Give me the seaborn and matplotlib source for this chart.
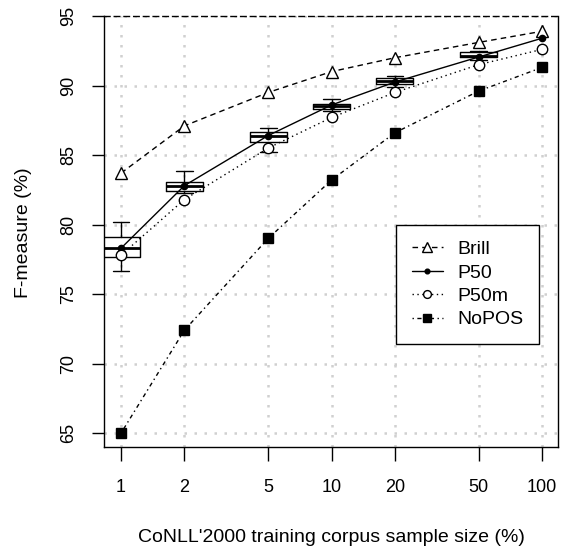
import numpy as np
import pandas as pd
import matplotlib
matplotlib.use("Agg")
import matplotlib.pyplot as plt
import seaborn as sns

# ---- data ----
sizes = [1, 2, 5, 10, 20, 50, 100]
tick_labels = ["1", "2", "5", "10", "20", "50", "100"]
brill = [83.7, 87.1, 89.5, 91.0, 92.0, 93.1, 93.9]
p50 = [78.3, 82.8, 86.4, 88.6, 90.25, 92.05, 93.4]
p50m = [77.8, 81.8, 85.5, 87.7, 89.5, 91.5, 92.6]
nopos = [65.0, 72.4, 79.0, 83.2, 86.6, 89.6, 91.3]

box_sizes = [1, 2, 5, 10, 20, 50]
box_lo = [76.65, 82.25, 85.2, 88.2, 89.9, 91.85]
box_q1 = [77.7, 82.4, 85.95, 88.3, 90.1, 92.05]
box_med = [78.3, 82.8, 86.35, 88.55, 90.3, 92.15]
box_q3 = [79.1, 83.05, 86.65, 88.7, 90.55, 92.4]
box_hi = [80.2, 83.85, 86.95, 89.0, 90.65, 92.45]

yticks = [65, 70, 75, 80, 85, 90, 95]

sns.set_style("white")
plt.rcParams["font.family"] = ["Liberation Sans", "DejaVu Sans"]
plt.rcParams["font.size"] = 13
plt.rcParams["text.color"] = "black"
plt.rcParams["xtick.labelcolor"] = "black"
plt.rcParams["ytick.labelcolor"] = "black"

fig = plt.figure(figsize=(5.64, 5.48), dpi=100)
ax = fig.add_axes([104 / 564, 1 - 447 / 548, (558 - 104) / 564, (447 - 16) / 548])

lx = np.log10(sizes)

# grid
grid_kw = dict(color="#d0d0d0", linestyle=(0, (1, 3)), linewidth=1.8, zorder=0)
for v in lx:
    ax.axvline(v, **grid_kw)
for v in yticks:
    ax.axhline(v, **grid_kw)

# boxplots
stats = []
for lo, q1, med, q3, hi in zip(box_lo, box_q1, box_med, box_q3, box_hi):
    stats.append(dict(whislo=lo, q1=q1, med=med, q3=q3, whishi=hi, fliers=[]))
bw = 0.176
ax.bxp(stats, positions=np.log10(box_sizes), widths=bw, manage_ticks=False,
       boxprops=dict(color="black", linewidth=1.0),
       whiskerprops=dict(color="black", linewidth=1.0),
       capprops=dict(color="black", linewidth=1.0),
       medianprops=dict(color="black", linewidth=2.0),
       capwidths=bw * 0.45, zorder=2)

series = [
    ("Brill", brill, dict(marker="^", markersize=9, markerfacecolor="white",
                          linestyle=(0, (4, 3)))),
    ("P50", p50, dict(marker="o", markersize=4.5, markerfacecolor="black",
                      linestyle="-")),
    ("P50m", p50m, dict(marker="o", markersize=7.5, markerfacecolor="white",
                        linestyle=(0, (1, 2.5)))),
    ("NoPOS", nopos, dict(marker="s", markersize=7, markerfacecolor="black",
                          linestyle=(0, (1, 2.5, 3, 2.5)))),
]
for name, vals, kw in series:
    sns.lineplot(x=lx, y=vals, ax=ax, color="black", linewidth=1.0,
                 markeredgecolor="black", markeredgewidth=1.0, label=name,
                 zorder=3, **kw)

ax.set_xlim(-0.081, 2.076)
ax.set_ylim(64.0, 95.0)
ax.set_xticks(lx)
ax.set_xticklabels(tick_labels)
ax.set_yticks(yticks)
ax.set_yticklabels([str(v) for v in yticks], rotation=90, va="center")

ax.tick_params(axis="x", direction="out", length=10, width=1, pad=13,
               color="black", labelcolor="black", labelsize=13, bottom=True)
ax.tick_params(axis="y", direction="out", length=9, width=1, pad=10,
               color="black", labelcolor="black", labelsize=13, left=True)

for s in ["left", "bottom", "right"]:
    ax.spines[s].set_color("black")
    ax.spines[s].set_linewidth(1.0)
ax.spines["top"].set_color("black")
ax.spines["top"].set_linestyle((0, (4, 3)))
ax.spines["top"].set_linewidth(1.0)

ax.set_xlabel("")
ax.set_ylabel("")
fig.text(331 / 564, 1 - 537 / 548, "CoNLL'2000 training corpus sample size (%)",
         ha="center", va="center", fontsize=14, color="black")
fig.text(23 / 564, 1 - 233 / 548, "F-measure (%)", rotation=90,
         ha="center", va="center", fontsize=14, color="black")

leg = ax.legend(loc="upper left", bbox_to_anchor=((396 - 104) / 454, 1 - (225 - 16) / 431),
                borderaxespad=0.0,
                frameon=True, fancybox=False, edgecolor="black", framealpha=1,
                handlelength=1.6, handletextpad=0.75, labelspacing=0.3,
                borderpad=0.8, fontsize=14, markerscale=0.75)
leg.get_frame().set_linewidth(1.0)
for t in leg.get_texts():
    t.set_color("black")

fig.savefig("out.png", dpi=100, facecolor="white")
